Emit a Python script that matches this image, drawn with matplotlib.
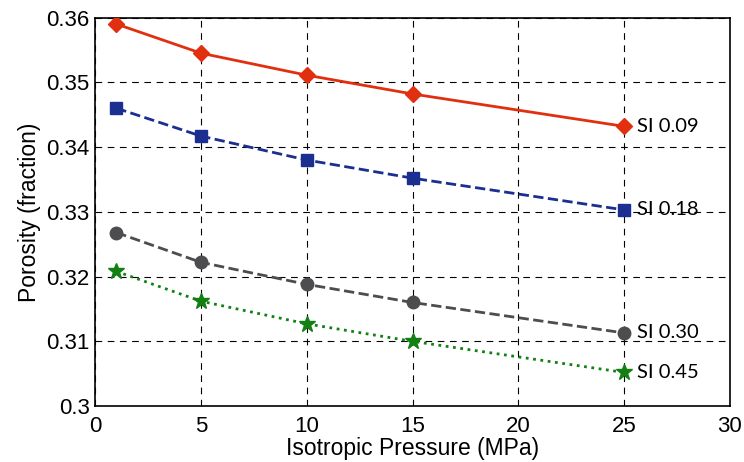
import numpy as np
import matplotlib.pyplot as plt

# isotropic pressure (MPa) and porosity for each SI level
pressure = np.array([1, 5, 10, 15, 25])
phi_009 = np.array([0.3590, 0.3545, 0.3511, 0.3482, 0.3432])
phi_018 = np.array([0.3460, 0.3417, 0.3380, 0.3352, 0.3303])
phi_030 = np.array([0.3268, 0.3222, 0.3188, 0.3160, 0.3113])
phi_045 = np.array([0.3208, 0.3162, 0.3127, 0.3100, 0.3052])
labels = ['SI 0.09', 'SI 0.18', 'SI 0.30', 'SI 0.45']

plt.rcParams['font.family'] = ['Liberation Sans', 'DejaVu Sans']

fig = plt.figure(figsize=(7.44, 4.62), dpi=100)
ax = fig.add_axes([0.128, 0.121, 0.853, 0.841])

series = [
    (phi_009, '#e03010', '-', 'D', 8),
    (phi_018, '#1a2f90', '--', 's', 9),
    (phi_030, '#4d4d4f', '--', 'o', 9),
    (phi_045, '#128012', ':', '*', 12),
]
for (y, c, ls, m, ms), lab in zip(series, labels):
    ax.plot(pressure, y, color=c, linestyle=ls, marker=m, markersize=ms,
            linewidth=2, zorder=3)
    ax.text(pressure[-1] + 0.6, y[-1], lab, fontsize=14.5, va='center',
            family=['Lato', 'DejaVu Sans'])

ax.set_xlim(0, 30)
ax.set_ylim(0.30, 0.36)
ax.set_xticks(np.arange(0, 31, 5))
ax.set_yticks([0.30, 0.31, 0.32, 0.33, 0.34, 0.35, 0.36])
ax.set_yticklabels(['0.3', '0.31', '0.32', '0.33', '0.34', '0.35', '0.36'])
ax.tick_params(length=0, labelsize=16)
ax.tick_params(axis='x', pad=7)
ax.tick_params(axis='y', pad=4)
ax.grid(True, color='black', linestyle=(0, (6, 5)), linewidth=0.8)
for s in ax.spines.values():
    s.set_linewidth(1.2)
ax.set_xlabel('Isotropic Pressure (MPa)', fontsize=16.5, labelpad=0)
ax.set_ylabel('Porosity (fraction)', fontsize=16.5, labelpad=4)

fig.savefig('out.png', dpi=100)
